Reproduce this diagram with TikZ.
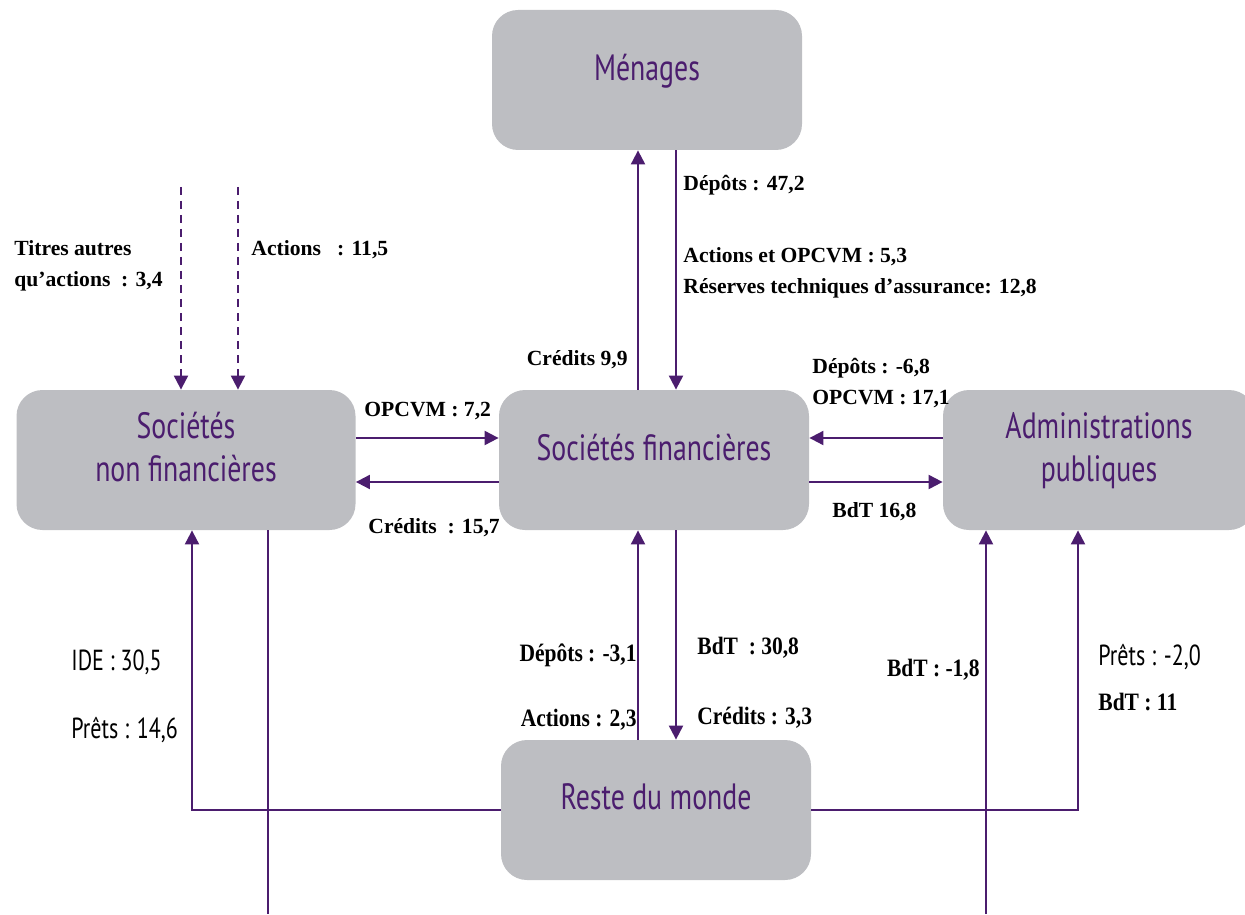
\documentclass[tikz,border=0pt]{standalone}
\usepackage{fontspec}
\setmainfont{Liberation Serif}
\newfontfamily\sectorfont[FakeStretch=0.76]{PT Sans}
\newfontfamily\narrowserif[FakeStretch=0.86]{Liberation Serif}
\usetikzlibrary{arrows.meta}
\definecolor{flowviolet}{HTML}{4B1D6E}
\definecolor{boxgray}{HTML}{BDBEC2}

\begin{document}
\begin{tikzpicture}[
			x=0.5pt, y=-0.5pt,
			sector/.style={rectangle, rounded corners=13pt, fill=boxgray, text=flowviolet,
				minimum width=155pt, minimum height=70pt, align=center, text depth=13pt,
				font=\sectorfont\fontsize{18.3}{21.5}\selectfont},
			flow/.style={draw=flowviolet, line width=1pt, -{Triangle[length=7pt,width=7pt]}},
			lab/.style={inner sep=0pt, anchor=west, align=left, font=\bfseries\fontsize{10.8}{15.5}\selectfont},
			nlab/.style={lab, font=\narrowserif\bfseries\fontsize{12.5}{15.5}\selectfont},
			slab/.style={lab, font=\sectorfont\fontsize{14.5}{15}\selectfont}
			]
			\useasboundingbox (0,0) rectangle (1245,914);
			
			\node[sector] (men) at (647,80) {Ménages};
			\node[sector, minimum width=169.5pt] (snf) at (186,460) {Sociétés\\non financières};
			\node[sector] (sf) at (654,460) {Sociétés financières};
			\node[sector, minimum width=156pt] (ap) at (1099,460) {Administrations\\publiques};
			\node[sector] (rdm) at (656,810) {Reste du monde};
			
			\coordinate (tao) at (181,187);
			\coordinate (act) at (238,187);
			\coordinate (snfout) at (268,914);
			\coordinate (apin) at (986,914);
			
			\draw[flow, dashed, dash pattern=on 4pt off 3pt] (tao) -- (tao |- snf.north);
			\draw[flow, dashed, dash pattern=on 4pt off 3pt] (act) -- (act |- snf.north);
			
			\draw[flow] ([xshift=-8pt]sf.north) -- ([xshift=-8pt]sf.north |- men.south);
			\draw[flow] ([xshift=11pt]sf.north |- men.south) -- ([xshift=11pt]sf.north);
			
			\draw[flow] ([yshift=11pt]snf.east) -- ([yshift=11pt]snf.east -| sf.west);
			\draw[flow] ([yshift=-11pt]sf.west) -- ([yshift=-11pt]sf.west -| snf.east);
			\draw[flow] ([yshift=11pt]ap.west) -- ([yshift=11pt]ap.west -| sf.east);
			\draw[flow] ([yshift=-11pt]sf.east) -- ([yshift=-11pt]sf.east -| ap.west);
			
			\draw[flow] ([xshift=-8pt]sf.south |- rdm.north) -- ([xshift=-8pt]sf.south);
			\draw[flow] ([xshift=11pt]sf.south) -- ([xshift=11pt]sf.south |- rdm.north);
			
			\draw[flow] (rdm.west) -| ([xshift=3pt]snf.south);
			\draw[flow, -] ([xshift=41pt]snf.south) -- (snfout);
			\draw[flow] (rdm.east) -| ([xshift=-10.5pt]ap.south);
			\draw[flow] (apin) -- (apin |- ap.south);
			
			\node[lab] (l1) at (14,266) {Titres autres\\qu’actions\ \ : 3,4};
			\node[lab] (l2) at (251,250) {Actions\ \ \ : 11,5};
			\node[lab] (l3) at (683,185) {Dépôts : 47,2};
			\node[lab] (l4) at (683,273) {Actions et OPCVM : 5,3\\Réserves techniques d’assurance: 12,8};
			\node[lab, anchor=east] (l5) at (628,360) {Crédits 9,9};
			\node[lab] (l6) at (812,383) {Dépôts : -6,8\\OPCVM : 17,1};
			\node[lab] (l7) at (364,411) {OPCVM : 7,2};
			\node[lab] (l8) at (368,528) {Crédits\ \ : 15,7};
			\node[lab] (l9) at (832,512) {BdT 16,8};
			\node[slab] (l10) at (71,662) {IDE : 30,5};
			\node[slab] (l11) at (71,730) {Prêts : 14,6};
			\node[nlab, anchor=east] (l12) at (637,655) {Dépôts : -3,1};
			\node[nlab, anchor=east] (l13) at (637,720) {Actions : 2,3};
			\node[nlab] (l14) at (697,648) {BdT\ \ : 30,8};
			\node[nlab] (l15) at (697,718) {Crédits : 3,3};
			\node[nlab, anchor=east] (l16) at (980,670) {BdT : -1,8};
			\node[slab] (l17) at (1098,657) {Prêts : -2,0};
			\node[nlab] (l18) at (1098,702) {BdT : 11};
		\end{tikzpicture}
\end{document}
